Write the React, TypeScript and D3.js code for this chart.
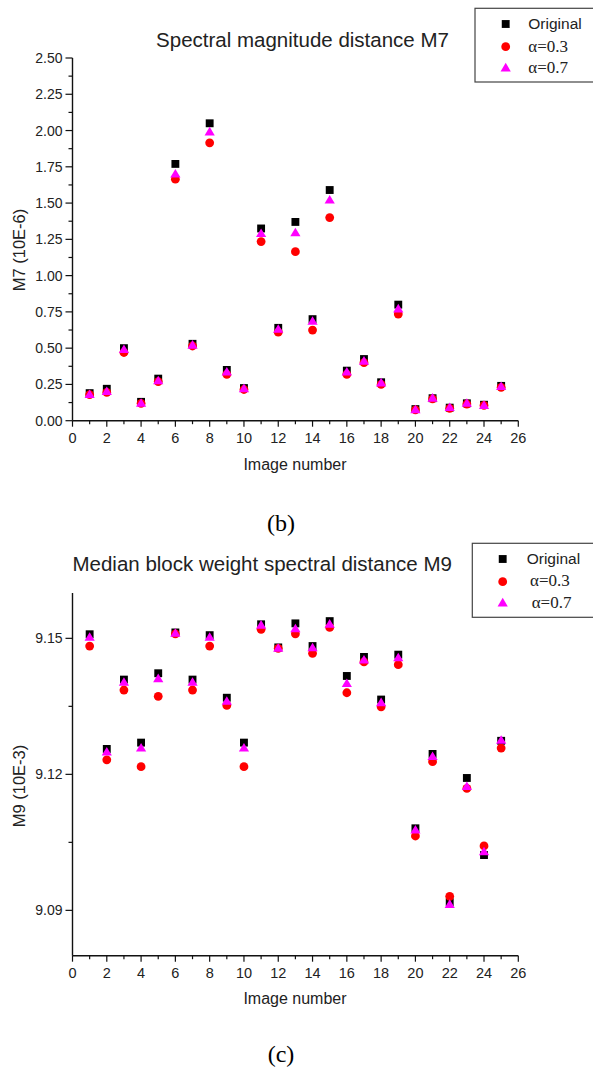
import React from "react";
import * as d3 from "d3";

// ---------- data ----------
const imageNumbers = [1, 2, 3, 4, 5, 6, 7, 8, 9, 10, 11, 12, 13, 14, 15, 16, 17, 18, 19, 20, 21, 22, 23, 24, 25];
const seriesNames = ["Original", "α=0.3", "α=0.7"];

const m7Original = [0.19, 0.22, 0.5, 0.13, 0.29, 1.77, 0.53, 2.05, 0.35, 0.225, 1.325, 0.64, 1.37, 0.7, 1.59, 0.345, 0.425, 0.265, 0.8, 0.08, 0.155, 0.09, 0.12, 0.11, 0.24];
const m7Alpha03 = [0.18, 0.195, 0.47, 0.12, 0.27, 1.665, 0.515, 1.915, 0.32, 0.215, 1.235, 0.61, 1.165, 0.625, 1.4, 0.32, 0.4, 0.25, 0.735, 0.075, 0.15, 0.085, 0.115, 0.105, 0.23];
const m7Alpha07 = [0.18, 0.2, 0.49, 0.12, 0.275, 1.7, 0.52, 1.99, 0.335, 0.22, 1.29, 0.63, 1.295, 0.685, 1.52, 0.335, 0.41, 0.26, 0.77, 0.075, 0.155, 0.09, 0.12, 0.105, 0.235];

const m9Original = [9.1509, 9.1256, 9.1409, 9.127, 9.1423, 9.1513, 9.1409, 9.1507, 9.1369, 9.127, 9.1531, 9.148, 9.1533, 9.1483, 9.1538, 9.1417, 9.1459, 9.1365, 9.1464, 9.1081, 9.1245, 9.0918, 9.1192, 9.1022, 9.1274];
const m9Alpha03 = [9.1483, 9.1232, 9.1386, 9.1217, 9.1372, 9.151, 9.1386, 9.1483, 9.1352, 9.1217, 9.152, 9.1478, 9.151, 9.1467, 9.1524, 9.138, 9.1448, 9.1349, 9.1442, 9.1064, 9.1228, 9.0931, 9.1169, 9.1042, 9.1258];
const m9Alpha07 = [9.1502, 9.1249, 9.1403, 9.1258, 9.1411, 9.1511, 9.1403, 9.1502, 9.1361, 9.1258, 9.1529, 9.1478, 9.1521, 9.1479, 9.1531, 9.14, 9.1452, 9.1358, 9.1457, 9.1077, 9.1239, 9.0913, 9.1173, 9.1029, 9.1275];

const xMajorTicks = [0, 2, 4, 6, 8, 10, 12, 14, 16, 18, 20, 22, 24, 26];
const xMinorTicks = [1, 3, 5, 7, 9, 11, 13, 15, 17, 19, 21, 23, 25];
const m7MajorTicks = [0, 0.25, 0.5, 0.75, 1.0, 1.25, 1.5, 1.75, 2.0, 2.25, 2.5];
const m7MinorTicks = [0.125, 0.375, 0.625, 0.875, 1.125, 1.375, 1.625, 1.875, 2.125, 2.375];
const m9MajorTicks = [9.09, 9.12, 9.15];
const m9MinorTicks = [9.105, 9.135];

// ---------- style ----------
const COLORS = ["#000000", "#ff0000", "#ff00ff"];
const SANS = "'Liberation Sans', Arial, sans-serif";
const SERIF = "'Liberation Serif', 'Times New Roman', serif";
const TEXT = "#222";
const AXIS = "#111";

function Marker({ kind, x, y, color }: { kind: number; x: number; y: number; color: string }) {
  if (kind === 0) {
    const s = d3.symbol().type(d3.symbolSquare).size(62)();
    return <path d={s as string} transform={`translate(${x},${y})`} fill={color} />;
  }
  if (kind === 1) {
    return <circle cx={x} cy={y} r={4.4} fill={color} />;
  }
  const h = 8.6;
  const w = 10.2;
  const d = `M${x},${y - h * 0.6}L${x + w / 2},${y + h * 0.4}L${x - w / 2},${y + h * 0.4}Z`;
  return <path d={d} fill={color} />;
}

type PanelProps = {
  series: number[][];
  yDomain: [number, number];
  yRange: [number, number];
  yMajor: number[];
  yMinor: number[];
  yFmt: (v: number) => string;
  title: string;
  titleX: number;
  titleY: number;
  yLabel: string;
  yLabelY: number;
  xLabelY: number;
  legend: { x: number; y: number; h: number; mx: number; my: number[]; tx: number[]; ty: number[] };
  caption: string;
  captionY: number;
};

function Panel(p: PanelProps) {
  const x = d3.scaleLinear().domain([0, 26]).range([72.5, 518.3]);
  const y = d3.scaleLinear().domain(p.yDomain).range(p.yRange);
  const x0 = x(0);
  const yBottom = p.yRange[0];
  const yTop = p.yRange[1];
  return (
    <g>
      <text x={p.titleX} y={p.titleY} textAnchor="middle" fontFamily={SANS} fontSize={20.5} fill={TEXT}>
        {p.title}
      </text>
      {/* axes */}
      <line x1={x0} x2={x0} y1={yTop} y2={yBottom} stroke={AXIS} strokeWidth={1.4} />
      <line x1={x0} x2={x(26)} y1={yBottom} y2={yBottom} stroke={AXIS} strokeWidth={1.4} />
      {p.yMajor.map((v) => (
        <g key={"ym" + v}>
          <line x1={x0 - 7} x2={x0} y1={y(v)} y2={y(v)} stroke={AXIS} strokeWidth={1.2} />
          <text x={x0 - 10} y={y(v) + 5} textAnchor="end" fontFamily={SANS} fontSize={14} fill={TEXT}>
            {p.yFmt(v)}
          </text>
        </g>
      ))}
      {p.yMinor.map((v) => (
        <line key={"yn" + v} x1={x0 - 4} x2={x0} y1={y(v)} y2={y(v)} stroke={AXIS} strokeWidth={1.2} />
      ))}
      {xMajorTicks.map((v) => (
        <g key={"xm" + v}>
          <line x1={x(v)} x2={x(v)} y1={yBottom} y2={yBottom + 6} stroke={AXIS} strokeWidth={1.2} />
          <text x={x(v)} y={yBottom + 22.5} textAnchor="middle" fontFamily={SANS} fontSize={14.5} fill={TEXT}>
            {v}
          </text>
        </g>
      ))}
      {xMinorTicks.map((v) => (
        <line key={"xn" + v} x1={x(v)} x2={x(v)} y1={yBottom} y2={yBottom + 3.5} stroke={AXIS} strokeWidth={1.2} />
      ))}
      <text x={295} y={p.xLabelY} textAnchor="middle" fontFamily={SANS} fontSize={16} fill={TEXT}>
        Image number
      </text>
      <text
        transform={`translate(25,${p.yLabelY}) rotate(-90)`}
        textAnchor="middle"
        fontFamily={SANS}
        fontSize={16.5}
        fill={TEXT}
      >
        {p.yLabel}
      </text>
      {/* points */}
      {p.series.map((vals, si) => (
        <g key={"s" + si}>
          {vals.map((v, i) => (
            <Marker key={i} kind={si} x={x(imageNumbers[i])} y={y(v)} color={COLORS[si]} />
          ))}
        </g>
      ))}
      {/* legend */}
      <rect x={p.legend.x} y={p.legend.y} width={200} height={p.legend.h} fill="#fff" stroke="#444" strokeWidth={1.2} />
      {seriesNames.map((n, i) => (
        <g key={"l" + i}>
          <Marker kind={i} x={p.legend.mx} y={p.legend.my[i]} color={COLORS[i]} />
          <text
            x={p.legend.tx[i]}
            y={p.legend.ty[i]}
            fontFamily={i === 0 ? SANS : SERIF}
            fontSize={i === 0 ? 15.5 : 17}
            fill={TEXT}
          >
            {n}
          </text>
        </g>
      ))}
      <text x={281} y={p.captionY} textAnchor="middle" fontFamily={SERIF} fontSize={24} fill="#000">
        {p.caption}
      </text>
    </g>
  );
}

export default function App() {
  return (
    <svg
      width={593}
      height={1067}
      style={{ position: "absolute", left: 0, top: 0, background: "#fff" }}
    >
      <rect width={593} height={1067} fill="#fff" />
      <Panel
        series={[m7Original, m7Alpha03, m7Alpha07]}
        yDomain={[0, 2.5]}
        yRange={[420.7, 58]}
        yMajor={m7MajorTicks}
        yMinor={m7MinorTicks}
        yFmt={d3.format(".2f")}
        title="Spectral magnitude distance M7"
        titleX={302.5}
        titleY={46.5}
        yLabel="M7 (10E-6)"
        yLabelY={250}
        xLabelY={469.5}
        legend={{ x: 475, y: 8.3, h: 73.7, mx: 505.7, my: [24, 46.7, 68], tx: [528.3, 528.3, 528.3], ty: [29.3, 51.5, 73] }}
        caption="(b)"
        captionY={531}
      />
      <Panel
        series={[m9Original, m9Alpha03, m9Alpha07]}
        yDomain={[9.08, 9.16]}
        yRange={[955.7, 593]}
        yMajor={m9MajorTicks}
        yMinor={m9MinorTicks}
        yFmt={d3.format(".2f")}
        title="Median block weight spectral distance M9"
        titleX={262.2}
        titleY={570.7}
        yLabel="M9 (10E-3)"
        yLabelY={786}
        xLabelY={1004}
        legend={{ x: 472.3, y: 543.3, h: 74, mx: 502.7, my: [559, 581.7, 603], tx: [526.7, 530, 531.7], ty: [564.3, 586, 608.3] }}
        caption="(c)"
        captionY={1062}
      />
    </svg>
  );
}
